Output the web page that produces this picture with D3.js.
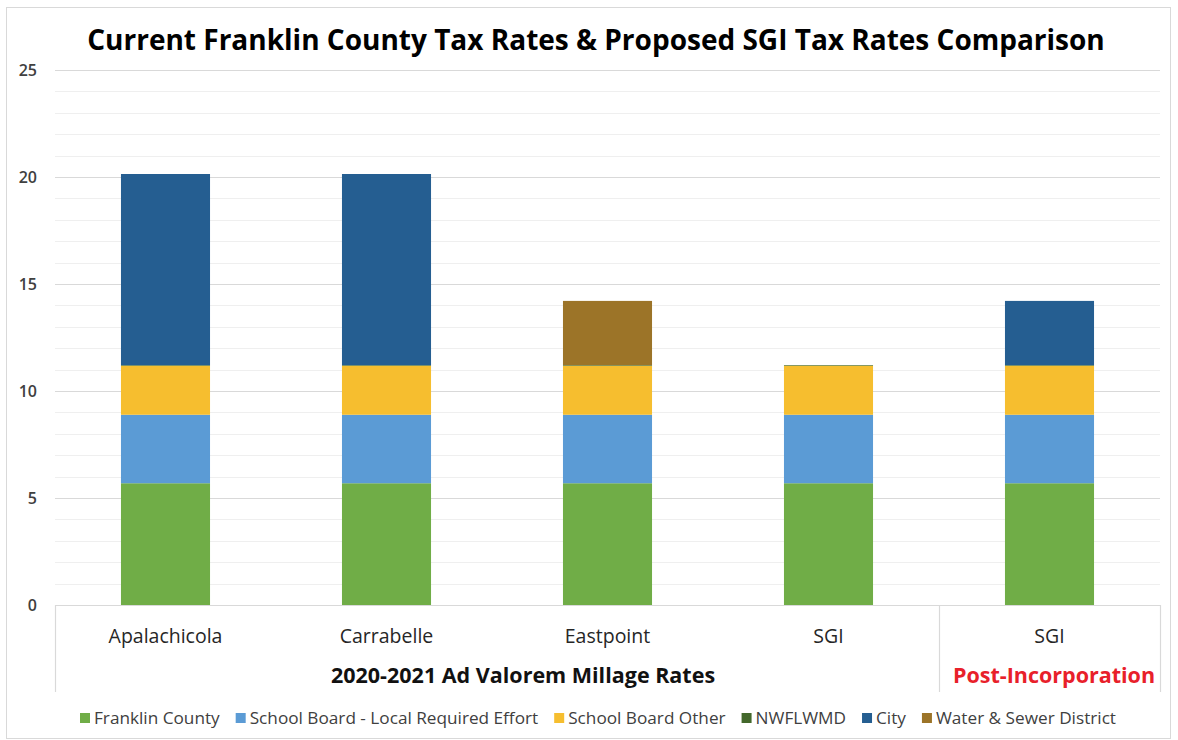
<!DOCTYPE html>
<html>
<head>
<meta charset="utf-8">
<script src="https://cdn.jsdelivr.net/npm/d3@7"></script>
<style>
  html, body { margin: 0; padding: 0; background: #fff; }
  svg { display: block; font-family: "Open Sans", "Noto Sans", sans-serif; }
</style>
</head>
<body>
<svg id="chart" width="1178" height="740"></svg>
<script>
// ---- data ----
const categories = ["Apalachicola", "Carrabelle", "Eastpoint", "SGI", "SGI (Post-Incorporation)"];
const categoryLabels = ["Apalachicola", "Carrabelle", "Eastpoint", "SGI", "SGI"];
const seriesNames = ["Franklin County", "School Board - Local Required Effort", "School Board Other", "NWFLWMD", "City", "Water & Sewer District"];
const franklinCounty = [5.69, 5.69, 5.69, 5.69, 5.69];
const schoolBoardLRE = [3.20, 3.20, 3.20, 3.20, 3.20];
const schoolBoardOther = [2.29, 2.29, 2.29, 2.29, 2.29];
const nwflwmd = [0.03, 0.03, 0.03, 0.03, 0.03];
const city = [8.93, 8.93, 0, 0, 3.00];
const waterSewer = [0, 0, 3.00, 0, 0];
const yTicks = [0, 5, 10, 15, 20, 25];
const groupLabels = ["2020-2021 Ad Valorem Millage Rates", "Post-Incorporation"];
const titleText = "Current Franklin County Tax Rates & Proposed SGI Tax Rates Comparison";

const seriesValues = [franklinCounty, schoolBoardLRE, schoolBoardOther, nwflwmd, city, waterSewer];
const colors = ["#70AD47", "#5B9BD5", "#F6BE2F", "#43682B", "#255E91", "#9C7428"];

const table = categories.map((c, i) => {
  const row = { cat: c };
  seriesNames.forEach((s, j) => row[s] = seriesValues[j][i]);
  return row;
});

const svg = d3.select("#chart");
// outer frame
svg.append("rect").attr("x", 6.5).attr("y", 7.5).attr("width", 1164).attr("height", 731)
  .attr("fill", "none").attr("stroke", "#d9d9d9").attr("stroke-width", 1);

const pLeft = 55, pRight = 1160, pTop = 70, pBottom = 605;
const x = d3.scaleBand().domain(categories).range([pLeft, pRight]).paddingInner(0.597).paddingOuter(0.2985);
const y = d3.scaleLinear().domain([0, 25]).range([pBottom, pTop]);

// minor gridlines
const minor = d3.range(1, 25).filter(v => v % 5 !== 0);
svg.append("g").selectAll("line").data(minor).join("line")
  .attr("x1", pLeft).attr("x2", pRight)
  .attr("y1", d => Math.round(y(d)) + 0.5).attr("y2", d => Math.round(y(d)) + 0.5)
  .attr("stroke", "#efefef").attr("stroke-width", 1);
// major gridlines
svg.append("g").selectAll("line").data(yTicks.filter(v => v > 0)).join("line")
  .attr("x1", pLeft).attr("x2", pRight)
  .attr("y1", d => Math.round(y(d)) + 0.5).attr("y2", d => Math.round(y(d)) + 0.5)
  .attr("stroke", "#d9d9d9").attr("stroke-width", 1.2);

// y axis labels
const yAxis = d3.axisLeft(y).tickValues(yTicks).tickSize(0).tickPadding(0);
const yg = svg.append("g").attr("transform", `translate(37,0)`).call(yAxis);
yg.select(".domain").remove();
yg.selectAll("text").attr("font-size", 16).attr("fill", "#404040")
  .attr("font-family", "Open Sans, Noto Sans, sans-serif").attr("font-weight", 600);

// stacked bars
const stack = d3.stack().keys(seriesNames);
const stacked = stack(table);
svg.append("g").selectAll("g").data(stacked).join("g")
  .attr("fill", (d, i) => colors[i])
  .selectAll("rect").data(d => d).join("rect")
  .attr("x", d => x(d.data.cat))
  .attr("width", x.bandwidth())
  .attr("y", d => y(d[1]))
  .attr("height", d => Math.max(0, y(d[0]) - y(d[1])));

// x axis (bottom line + group separators)
const axisG = svg.append("g");
axisG.append("line").attr("x1", pLeft).attr("x2", pRight).attr("y1", pBottom + 0.5).attr("y2", pBottom + 0.5)
  .attr("stroke", "#d9d9d9").attr("stroke-width", 1.2);
const sepXs = [pLeft, x(categories[4]) - x.step() * x.paddingInner() / 2, pRight];
axisG.selectAll("line.sep").data(sepXs).join("line").attr("class", "sep")
  .attr("x1", d => Math.round(d) + 0.5).attr("x2", d => Math.round(d) + 0.5)
  .attr("y1", pBottom).attr("y2", 692)
  .attr("stroke", "#d9d9d9").attr("stroke-width", 1.2);

// category labels
svg.append("g").selectAll("text").data(categories).join("text")
  .attr("x", d => x(d) + x.bandwidth() / 2)
  .attr("y", 643)
  .attr("text-anchor", "middle")
  .attr("font-size", 19.5).attr("fill", "#262626")
  .text((d, i) => categoryLabels[i]);

// group labels
svg.append("text").attr("x", 523).attr("y", 683).attr("text-anchor", "middle")
  .attr("font-size", 21.5).attr("font-weight", 700).attr("fill", "#111")
  .text(groupLabels[0]);
svg.append("text").attr("x", 1054).attr("y", 683).attr("text-anchor", "middle")
  .attr("font-size", 21.5).attr("font-weight", 700).attr("fill", "#E8202A")
  .text(groupLabels[1]);

// title
svg.append("text").attr("x", 596).attr("y", 50).attr("text-anchor", "middle")
  .attr("font-size", 28).attr("font-weight", 700).attr("fill", "#000")
  .text(titleText);

// legend
const legend = svg.append("g");
let lx = 80;
const ly = 718;
seriesNames.forEach((s, i) => {
  legend.append("rect").attr("x", lx).attr("y", ly - 5).attr("width", 10).attr("height", 10).attr("fill", colors[i]);
  const t = legend.append("text").attr("x", lx + 14).attr("y", ly + 6)
    .attr("font-size", 17.2).attr("fill", "#404040").text(s);
  lx += 14 + t.node().getComputedTextLength() + 16;
});
</script>
</body>
</html>
